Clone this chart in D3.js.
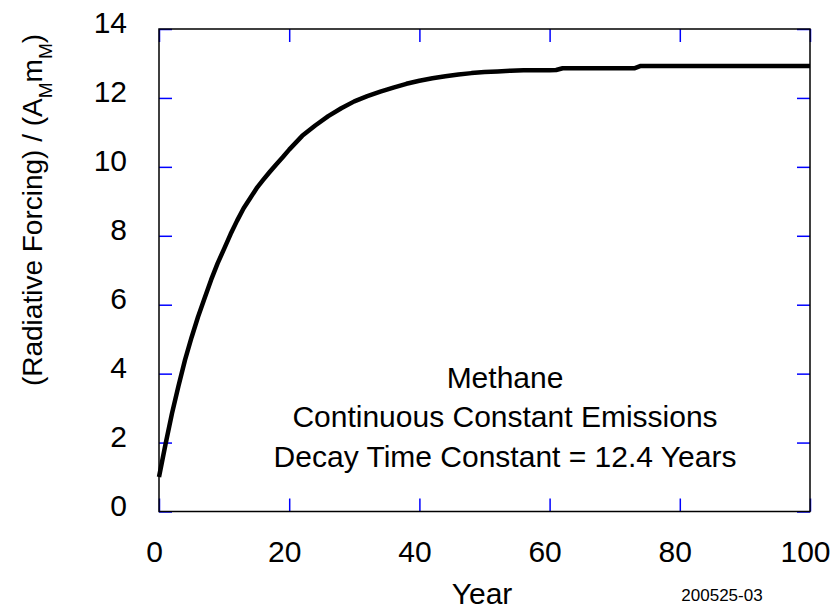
<!DOCTYPE html>
<html>
<head>
<meta charset="utf-8">
<script src="https://cdn.jsdelivr.net/npm/d3@7"></script>
<style>
  html, body { margin: 0; padding: 0; background: #fff; }
  svg { display: block; font-family: Arial, "Liberation Sans", sans-serif; }
</style>
</head>
<body>
<svg id="chart" width="838" height="609"></svg>
<script>
// ---- data ----
const years = [0,1,2,3,4,5,6,7,8,9,10,11,12,13,14,15,16,17,18,19,20,22,24,26,28,30,32,34,36,38,40,42,44,46,48,50,52,54,56,58,60,61,62,73,74,100];
const forcing = [1.00,1.95,2.85,3.65,4.40,5.05,5.65,6.19,6.72,7.20,7.62,8.05,8.44,8.80,9.09,9.38,9.62,9.85,10.07,10.28,10.50,10.90,11.20,11.47,11.70,11.90,12.05,12.18,12.30,12.41,12.50,12.57,12.63,12.68,12.72,12.75,12.77,12.79,12.80,12.80,12.80,12.81,12.86,12.86,12.93,12.93];
const xTicks = [0,20,40,60,80,100];
const yTicks = [0,2,4,6,8,10,12,14];
const annotationLines = ["Methane", "Continuous Constant Emissions", "Decay Time Constant = 12.4 Years"];
const xTitle = "Year";
const stamp = "200525-03";

// ---- layout ----
const W = 838, H = 609;
const m = {left: 159, right: 28, top: 29, bottom: 97.5};
const svg = d3.select("#chart");
const x = d3.scaleLinear().domain([0,100]).range([m.left, W - m.right]);
const y = d3.scaleLinear().domain([0,14]).range([H - m.bottom, m.top]);
const tickLen = 13, tickColor = "#0000ff", fs = 30;

// ticks (inward, blue)
function styleAxis(g) {
  g.select(".domain").remove();
  g.selectAll(".tick line").attr("stroke", tickColor).attr("stroke-width", 1.5);
  g.selectAll("text").remove();
}
svg.append("g").attr("transform", `translate(0,${y(0)})`)
  .call(d3.axisBottom(x).tickValues(xTicks).tickSize(-tickLen)).call(styleAxis);
svg.append("g").attr("transform", `translate(0,${y(14)})`)
  .call(d3.axisTop(x).tickValues(xTicks).tickSize(-tickLen)).call(styleAxis);
svg.append("g").attr("transform", `translate(${x(0)},0)`)
  .call(d3.axisLeft(y).tickValues(yTicks).tickSize(-tickLen)).call(styleAxis);
svg.append("g").attr("transform", `translate(${x(100)},0)`)
  .call(d3.axisRight(y).tickValues(yTicks).tickSize(-tickLen)).call(styleAxis);

// frame
svg.append("rect")
  .attr("x", x(0)).attr("y", y(14))
  .attr("width", x(100) - x(0)).attr("height", y(0) - y(14))
  .attr("fill", "none").attr("stroke", "#000").attr("stroke-width", 1.5);

// tick labels
svg.append("g").selectAll("text").data(xTicks).join("text")
  .attr("x", d => x(d) - 4.5).attr("y", 561.5)
  .attr("text-anchor", "middle").attr("font-size", fs).attr("fill", "#000")
  .text(d => d);
svg.append("g").selectAll("text").data(yTicks).join("text")
  .attr("x", 127).attr("y", d => y(d) + 4)
  .attr("text-anchor", "end").attr("font-size", fs).attr("fill", "#000")
  .text(d => d);

// curve
const pts = years.map((t, i) => [t, forcing[i]]);
svg.append("path").datum(pts)
  .attr("fill", "none").attr("stroke", "#000").attr("stroke-width", 4.5)
  .attr("stroke-linejoin", "round")
  .attr("d", d3.line().x(d => x(d[0])).y(d => y(d[1])));

// annotation
svg.append("g").selectAll("text").data(annotationLines).join("text")
  .attr("x", 505).attr("y", (d, i) => 388 + i * 39.3)
  .attr("text-anchor", "middle").attr("font-size", fs).attr("fill", "#000")
  .text(d => d);

// x title and stamp
svg.append("text").attr("x", 482).attr("y", 604)
  .attr("text-anchor", "middle").attr("font-size", fs).attr("fill", "#000").text(xTitle);
svg.append("text").attr("x", 722).attr("y", 601)
  .attr("text-anchor", "middle").attr("font-size", 17).attr("fill", "#000").text(stamp);

// y title
const yt = svg.append("text")
  .attr("transform", "translate(42,210) rotate(-90)")
  .attr("text-anchor", "middle").attr("font-size", 28).attr("fill", "#000");
yt.append("tspan").text("(Radiative Forcing) / (A");
yt.append("tspan").attr("font-size", 19).attr("dy", 10).text("M");
yt.append("tspan").attr("dy", -10).text("m");
yt.append("tspan").attr("font-size", 19).attr("dy", 10).text("M");
yt.append("tspan").attr("dy", -10).text(")");
</script>
</body>
</html>
